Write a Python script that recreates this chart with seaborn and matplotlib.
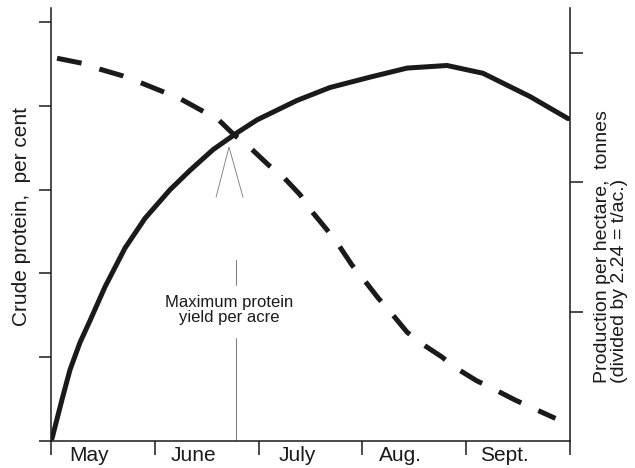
import numpy as np
import pandas as pd
import matplotlib
matplotlib.use('Agg')
import matplotlib.pyplot as plt
import seaborn as sns

# Values (x = months since 1 May)
months = ['May', 'June', 'July', 'Aug.', 'Sept.']

prod_t = [0.01, 0.106, 0.183, 0.279, 0.376, 0.52, 0.713, 0.906, 1.146, 1.339, 1.561,
          1.792, 1.985, 2.37, 2.688, 3.073, 3.43, 3.815, 4.162, 4.615, 4.981]
prod_val = [0.02, 0.32, 0.55, 0.76, 0.93, 1.19, 1.49, 1.72, 1.94, 2.09, 2.25,
            2.38, 2.48, 2.63, 2.73, 2.81, 2.88, 2.90, 2.84, 2.66, 2.49]

prot_t = [0.058, 0.30, 0.47, 0.69, 0.86, 1.10, 1.24, 1.46, 1.61, 1.76, 1.92, 2.10, 2.24,
          2.40, 2.50, 2.66, 2.76, 2.90, 3.00, 3.15, 3.27, 3.43, 3.55, 3.77, 3.89,
          4.10, 4.25, 4.47, 4.61, 4.86]
prot_val = [4.57, 4.51, 4.44, 4.36, 4.28, 4.16, 4.09, 3.94, 3.84, 3.66, 3.50, 3.29, 3.15,
            2.94, 2.76, 2.52, 2.36, 2.10, 1.95, 1.71, 1.54, 1.30, 1.18, 1.00, 0.88,
            0.72, 0.63, 0.49, 0.41, 0.27]

prod = pd.DataFrame({'t': prod_t, 'v': prod_val})
prot = pd.DataFrame({'t': prot_t, 'v': prot_val})

sns.set_theme(style='white')
plt.rcParams['font.family'] = ['Liberation Sans', 'DejaVu Sans']

ink = '#1a1a1a'
fig = plt.figure(figsize=(6.35, 4.68), dpi=100)
ax = fig.add_axes([51 / 635, 27 / 468, 519 / 635, 433 / 468])
ax2 = ax.twinx()

# crude protein (dashed, left axis)
sns.lineplot(data=prot, x='t', y='v', ax=ax, color=ink, linewidth=3.6, sort=False,
             linestyle=(0, (5, 3.75)))
# production (solid, right axis)
sns.lineplot(data=prod, x='t', y='v', ax=ax2, color=ink, linewidth=3.6, sort=False)

ax.set_xlim(0, 5)
ax.set_ylim(0, 5.17)
ax2.set_ylim(0, 3.344)

ax.set_yticks(range(6))
ax.set_yticklabels([])
ax2.set_yticks([1, 2, 3])
ax2.set_yticklabels([])
ax.set_xticks(range(6))
ax.set_xticklabels([])
ax.set_xticks(np.arange(len(months)) + 0.37, minor=True)
ax.set_xticklabels(months, minor=True, fontsize=15, color=ink)
ax.set_xlabel('')
ax.set_ylabel('')
ax2.set_ylabel('')

ax.tick_params(axis='y', which='major', direction='out', length=9, width=1.1, color=ink, left=True)
ax2.tick_params(axis='y', which='major', direction='out', length=9, width=1.1, color=ink, right=True)
ax.tick_params(axis='x', which='major', direction='out', length=10, width=1.1, color=ink, bottom=True)
ax.tick_params(axis='x', which='minor', length=0, pad=3.5, bottom=True)

for a in (ax, ax2):
    for s in a.spines.values():
        s.set_color(ink)
        s.set_linewidth(1.1)
    a.spines['top'].set_visible(False)
ax.spines['right'].set_visible(False)
ax2.spines['left'].set_visible(False)
ax2.spines['bottom'].set_visible(False)

# annotation pointer
grey = '#777777'
ax.plot([1.59, 1.715, 1.85], [2.91, 3.51, 2.91], color=grey, lw=0.6)
ax.plot([1.78, 1.78], [1.86, 2.16], color=grey, lw=0.7)
ax.plot([1.78, 1.78], [0.0, 1.23], color=grey, lw=0.7)
ax.text(1.72, 1.56, 'Maximum protein\nyield per acre', ha='center', va='center',
        fontsize=12, linespacing=1.0, color=ink)

fig.text(22 / 635, 1 - 216 / 468, 'Crude protein,  per cent', rotation=90,
         ha='center', va='center', fontsize=15, color=ink)
fig.text(611 / 635, 1 - 247 / 468, 'Production per hectare,  tonnes\n(divided by 2.24 = t/ac.)',
         rotation=90, ha='center', va='center', multialignment='left',
         fontsize=14, linespacing=1.0, color=ink)

fig.savefig('out.png', dpi=100)
